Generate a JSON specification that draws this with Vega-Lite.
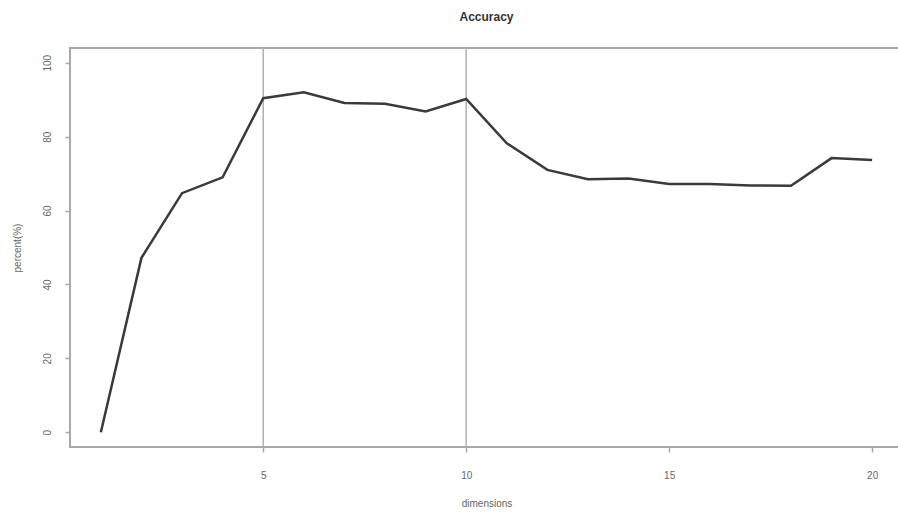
{
  "$schema": "https://vega.github.io/schema/vega-lite/v6.json",
  "autosize": {"type": "none"},
  "padding": {"left": 70, "top": 48, "right": 0, "bottom": 65},
  "width": 833,
  "height": 399,
  "background": "white",
  "title": {"text": "Accuracy", "anchor": "middle", "frame": "group", "font": "Liberation Sans", "fontSize": 12, "fontWeight": "bold", "color": "#333", "offset": 23},
  "config": {
    "view": {"stroke": "#a8a8a8", "strokeWidth": 2},
    "axis": {"domain": false, "grid": false, "tickColor": "#a8a8a8", "tickWidth": 1.5, "tickSize": 5, "labelFont": "Liberation Sans", "labelFontSize": 10, "labelColor": "#666", "titleFont": "Liberation Sans", "titleFontSize": 10, "titleFontWeight": "normal", "titleColor": "#666"}
  },
  "data": {"values": [
    {"dim": 1, "acc": 0.0},
    {"dim": 2, "acc": 47.2},
    {"dim": 3, "acc": 64.7},
    {"dim": 4, "acc": 69.0},
    {"dim": 5, "acc": 90.4},
    {"dim": 6, "acc": 92.0},
    {"dim": 7, "acc": 89.1},
    {"dim": 8, "acc": 88.9},
    {"dim": 9, "acc": 86.8},
    {"dim": 10, "acc": 90.2},
    {"dim": 11, "acc": 78.2},
    {"dim": 12, "acc": 71.0},
    {"dim": 13, "acc": 68.5},
    {"dim": 14, "acc": 68.7},
    {"dim": 15, "acc": 67.2},
    {"dim": 16, "acc": 67.2},
    {"dim": 17, "acc": 66.8},
    {"dim": 18, "acc": 66.7},
    {"dim": 19, "acc": 74.2},
    {"dim": 20, "acc": 73.7}
  ]},
  "layer": [
    {
      "data": {"values": [{"v": 5}, {"v": 10}]},
      "mark": {"type": "rule", "color": "#b0b0b0", "strokeWidth": 1.5},
      "encoding": {"x": {"field": "v", "type": "quantitative", "scale": {"domain": [0.24, 20.76], "nice": false, "zero": false}}}
    },
    {
      "mark": {"type": "line", "color": "#3a3a3a", "strokeWidth": 2.5},
      "encoding": {
        "x": {"field": "dim", "type": "quantitative", "scale": {"domain": [0.24, 20.76], "nice": false, "zero": false},
              "axis": {"values": [5, 10, 15, 20], "title": "dimensions", "labelPadding": 18, "titlePadding": 18}},
        "y": {"field": "acc", "type": "quantitative", "scale": {"domain": [-4, 104], "nice": false, "zero": false},
              "axis": {"values": [0, 20, 40, 60, 80, 100], "title": "percent(%)", "labelAngle": -90, "labelAlign": "center", "labelBaseline": "bottom", "labelPadding": 13, "titlePadding": 20}}
      }
    }
  ]
}
